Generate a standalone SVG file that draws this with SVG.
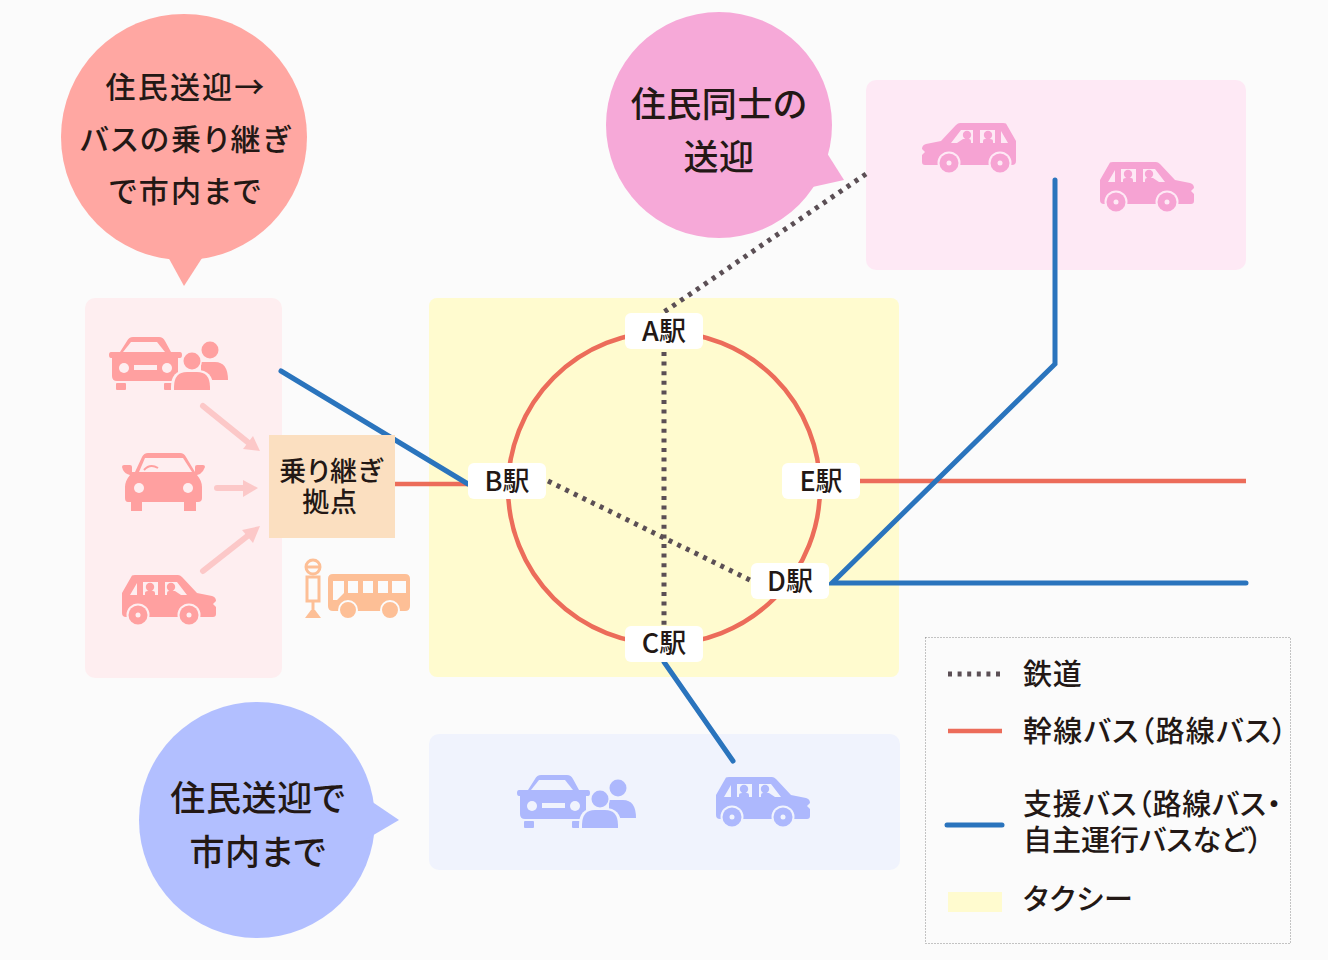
<svg xmlns="http://www.w3.org/2000/svg" width="1328" height="960" viewBox="0 0 1328 960">
<style>
text{font-family:"Noto Sans CJK JP","Noto Sans",sans-serif;fill:#231815;font-feature-settings:"palt";font-weight:500}
.m{text-anchor:middle}
.t30{font-size:30px;letter-spacing:2.2px}.t35{font-size:35px;letter-spacing:.6px}.t26{font-size:27px;letter-spacing:.7px}.st{font-size:27px}.lg{font-size:29px;letter-spacing:.7px}
.rail{fill:none;stroke:#5b4f55;stroke-width:5;stroke-dasharray:4 5.6}
.red{fill:none;stroke:#ec6c5a;stroke-width:4.5}
.blue{fill:none;stroke:#2a74bd;stroke-width:5;stroke-linecap:round;stroke-linejoin:miter}
.lab{fill:#fff}
.arr{fill:none;stroke:#fcc8c8;stroke-width:6;stroke-linecap:round}
.ah{fill:#fcc8c8}
</style>
<defs>
<g id="wagon">
<path fill="currentColor" d="M10 0.5Q11 0 13 0H56Q58 0 60 2L75 18L90 21Q94 22 94 26V39Q94 42 91 42H4Q0 42 0 38V18Z"/>
<path d="M8 20L15 8V20ZM21 7H36V20H21ZM43 7H55L65 20H43Z"/>
<circle cx="16" cy="40" r="11.5"/><circle cx="67" cy="40" r="11.5"/>
<circle fill="currentColor" cx="16" cy="40" r="9.5"/><circle fill="currentColor" cx="67" cy="40" r="9.5"/>
<circle cx="16" cy="40" r="2.5"/><circle cx="67" cy="40" r="2.5"/>
<circle fill="currentColor" cx="28" cy="12" r="4.2"/><path fill="currentColor" d="M23 20V18Q23 16 26 16H31Q33 16 33 18V20Z"/>
<circle fill="currentColor" cx="49" cy="12" r="4.2"/><path fill="currentColor" d="M45 20V18Q45 16 47 16H53L59 20Z"/>
<path d="M94 26L91 29L94 32Z"/>
</g>
<g id="carpeople">
<path fill="currentColor" d="M18 4Q20 0 24 0H50Q54 0 56 4L62 15H71Q73 15 73 18T71 21H69V39Q69 44 64 44H8Q3 44 3 39V21H2Q0 21 0 18T2 15H11Z"/>
<rect fill="currentColor" x="7" y="46" width="10" height="7" rx="1"/><rect fill="currentColor" x="55" y="46" width="10" height="7" rx="1"/>
<path d="M22 5H48L56 15H14Z"/>
<circle cx="15" cy="31" r="5"/><circle cx="58" cy="31" r="5"/><rect x="25" y="28" width="23" height="5"/>
<circle fill="currentColor" cx="101" cy="13" r="8.5"/><path fill="currentColor" d="M92 25H106Q119 25 119 43H92Z"/>
<circle cx="83" cy="24" r="10"/><circle fill="currentColor" cx="83" cy="24" r="8.5"/>
<path d="M62 55V50Q62 33 78 33H88Q104 33 104 50V55Z"/>
<path fill="currentColor" d="M65 53V50Q65 35 78 35H88Q101 35 101 50V53Z"/>
</g>
<g id="carfront">
<path fill="currentColor" d="M20 4Q22 0 26 0H58Q62 0 64 4L73 19V14Q73 12 75 12H81Q83 12 83 14L81 18Q79 21 75 22Q80 28 80 34V45Q80 49 76 49H74V58H62V49H20V58H9V49H6Q3 49 3 45V34Q3 28 8 22Q3 21 1 17L0 14Q0 12 2 12H8Q10 12 10 14V19H13Z"/>
<path d="M23 5H61L70 19H17Z"/>
<path fill="none" stroke="currentColor" stroke-width="2" d="M22 17Q28 10 36 15"/>
<circle cx="17" cy="35" r="5"/><circle cx="66" cy="35" r="5"/>
</g>
</defs>
<rect width="1328" height="960" fill="#fbfbfb"/>
<g id="area-left"><rect x="85" y="298" width="197" height="380" rx="10" fill="#feeef0"/></g>
<g id="area-taxi"><rect x="429" y="298" width="470" height="379" rx="8" fill="#fffbcf"/></g>
<g id="area-top"><rect x="866" y="80" width="380" height="190" rx="10" fill="#fee9f5"/></g>
<g id="area-bottom"><rect x="429" y="734" width="471" height="136" rx="10" fill="#f0f3fd"/></g>
<g id="connectors">
<circle class="red" cx="664" cy="488" r="156"/>
<path class="red" d="M395 484H468"/>
<path class="red" d="M860 481H1246"/>
<path class="blue" d="M281 371L468 484"/>
<path class="blue" d="M1055 180V364L832 583H1246"/>
<path class="blue" d="M664 662L733 761"/>
<path class="rail" d="M866 174L664 312"/>
<path class="rail" d="M664 352V626"/>
<path class="rail" d="M548 481L750 580"/>
<path class="arr" d="M203 406L250 444"/><path class="ah" d="M260 451L243 449L253 436Z"/>
<path class="arr" d="M217 488H246"/><path class="ah" d="M258 488L243 497V480Z"/>
<path class="arr" d="M203 571L250 534"/><path class="ah" d="M260 526L253 543L242 530Z"/>
</g>
<g id="bubble-left"><circle cx="184" cy="137" r="123" fill="#ffa7a2"/><path d="M167 255L184 286L204 255Z" fill="#ffa7a2"/>
<text class="m t30" x="186" y="98">住民送迎→</text><text class="m t30" x="186" y="150">バスの乗り継ぎ</text><text class="m t30" x="186" y="202">で市内まで</text></g>
<g id="bubble-top"><circle cx="719" cy="125" r="113" fill="#f6a9d8"/><path d="M825 150L844 180L790 192Z" fill="#f6a9d8"/>
<text class="m t35" x="719" y="117">住民同士の</text><text class="m t35" x="719" y="170">送迎</text></g>
<g id="bubble-bottom"><circle cx="257" cy="820" r="118" fill="#b2bfff"/><path d="M365 797L399 820L365 840Z" fill="#b2bfff"/>
<text class="m t35" x="258" y="811">住民送迎で</text><text class="m t35" x="258" y="865">市内まで</text></g>
<g id="node-hub"><rect x="269" y="435" width="126" height="103" fill="#fbdfc0"/>
<text class="m t26" x="331" y="481">乗り継ぎ</text><text class="m t26" x="330" y="512">拠点</text></g>
<g id="icons-left" color="#ffa0a0" fill="#feeef0">
<use href="#carpeople" x="109" y="337"/>
<use href="#carfront" x="122" y="453"/>
<use href="#wagon" x="122" y="575"/>
</g>
<g id="icon-busstop" fill="none" stroke="#fdbf96">
<circle cx="313" cy="567" r="7" stroke-width="3"/><path d="M306 567H320" stroke-width="3"/>
<rect x="307" y="577" width="12" height="24" stroke-width="3"/><path d="M313 601V612" stroke-width="3"/>
<path d="M305 618L311 610H315L321 618Z" fill="#fdbf96" stroke="none"/>
</g>
<g id="icon-bus">
<path d="M333 574H405Q410 574 410 579V606Q410 611 405 611H333Q328 611 328 606V579Q328 574 333 574Z" fill="#fdbf96"/>
<path d="M333 581H344V593L337 600H333ZM348 581H358V593H348ZM363 581H373V593H363ZM378 581H388V593H378ZM392 581H406V593H392Z" fill="#fbfbfb"/>
<circle cx="348" cy="610" r="9" fill="#fdbf96" stroke="#fbfbfb" stroke-width="2"/><circle cx="390" cy="610" r="9" fill="#fdbf96" stroke="#fbfbfb" stroke-width="2"/>
</g>
<g id="icons-top" color="#f6a3d3" fill="#fee9f5">
<use href="#wagon" transform="translate(1016 123) scale(-1 1)"/>
<use href="#wagon" x="1100" y="162"/>
</g>
<g id="icons-bottom" color="#adb8fd" fill="#f0f3fd">
<use href="#carpeople" x="517" y="775"/>
<use href="#wagon" x="716" y="777"/>
</g>
<g id="station-a"><rect class="lab" x="625" y="313" width="78" height="36" rx="6"/><text class="m st" x="664" y="341">A駅</text></g>
<g id="station-b"><rect class="lab" x="468" y="463" width="78" height="36" rx="6"/><text class="m st" x="507" y="491">B駅</text></g>
<g id="station-c"><rect class="lab" x="625" y="626" width="78" height="36" rx="6"/><text class="m st" x="664" y="653">C駅</text></g>
<g id="station-d"><rect class="lab" x="751" y="563" width="78" height="36" rx="6"/><text class="m st" x="790" y="591">D駅</text></g>
<g id="station-e"><rect class="lab" x="782" y="463" width="78" height="36" rx="6"/><text class="m st" x="821" y="491">E駅</text></g>
<g id="legend">
<rect x="925.500" y="637.500" width="365" height="306" fill="none" stroke="#8a8a8a" stroke-dasharray="1 2"/>
<path class="rail" d="M948 674H1001"/>
<path class="red" d="M948 731H1002"/>
<path class="blue" d="M947 825H1002"/>
<rect x="948" y="892" width="54" height="20" fill="#fffbcf"/>
<text class="lg" x="1023" y="685">鉄道</text>
<text class="lg" x="1023" y="742" style="letter-spacing:1.3px">幹線バス（路線バス）</text>
<text class="lg" x="1023" y="815">支援バス（路線バス・</text>
<text class="lg" x="1023" y="851" style="letter-spacing:0">自主運行バスなど）</text>
<text class="lg" x="1023" y="910" style="letter-spacing:1px">タクシー</text>
</g>
</svg>
